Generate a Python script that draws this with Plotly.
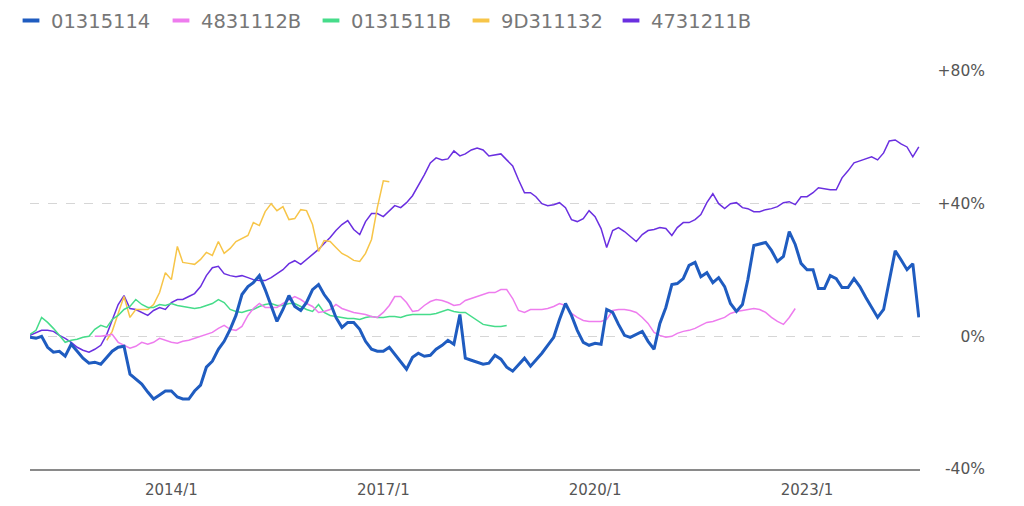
import plotly.graph_objects as go
import pandas as pd

# ---- data (monthly, % change) ----
names = ["01315114", "4831112B", "0131511B", "9D311132", "4731211B"]
colors = ["#1f5cc0", "#ee7cee", "#46dc8a", "#f7c548", "#6a2fe0"]
starts = ["2012-01-01", "2012-12-01", "2012-01-01", "2013-02-01", "2012-01-01"]

s_01315114 = [
    -0.3, -0.6, 0, -3.3, -4.8, -4.5, -6.0, -2.4, -4.5, -6.6, -8.1, -7.8,
    -8.4, -6.3, -4.5, -3.3, -3.0, -11.4, -12.9, -14.4, -16.8, -18.9, -17.7, -16.5,
    -16.5, -18.3, -18.9, -18.9, -16.5, -14.7, -9.3, -7.5, -3.9, -1.5, 2.1, 6.3,
    12.6, 15.0, 16.2, 18.3, 14.1, 9.3, 4.5, 8.1, 12.3, 9.0, 7.8, 10.2,
    14.1, 15.6, 12.6, 10.2, 5.7, 2.7, 4.2, 4.2, 2.1, -1.5, -3.9, -4.5,
    -4.5, -3.3, -5.4, -7.8, -9.9, -6.3, -5.1, -6.0, -5.7, -3.9, -2.7, -1.2,
    -2.4, 6.6, -6.6, -7.2, -7.8, -8.4, -8.1, -5.7, -6.9, -9.3, -10.5, -8.7,
    -6.6, -9.0, -7.2, -5.1, -2.7, -0.3, 5.1, 9.9, 6.3, 1.8, -1.8, -2.7,
    -2.1, -2.4, 8.1, 7.2, 3.6, 0.3, -0.3, 0.6, 1.5, -1.5, -3.9, 3.9,
    8.7, 15.6, 15.9, 17.4, 21.4, 22.3, 18.0, 19.2, 16.2, 17.7, 15.0, 9.9,
    7.5, 9.6, 17.1, 27.4, 27.9, 28.3, 25.9, 22.6, 24.1, 31.6, 27.7, 22.0,
    20.1, 20.1, 14.4, 14.4, 18.3, 17.4, 14.7, 14.7, 17.4, 15.0, 11.7, 8.7,
    5.7, 8.1, 16.5, 25.8, 23.1, 20.1, 21.9, 5.7,
]

s_4831112B = [
    0, 0, 0.3, 0.6, -1.8, -2.7, -3.6, -3.0, -1.8, -2.4, -1.8, -0.6,
    -1.2, -1.8, -2.1, -1.5, -1.2, -0.6, 0, 0.6, 1.2, 2.4, 3.3, 2.1,
    1.8, 3.0, 6.3, 8.4, 9.9, 8.7, 8.7, 8.7, 9.9, 11.1, 12.0, 11.1,
    9.9, 9.0, 7.2, 7.5, 8.1, 9.6, 8.4, 7.8, 7.2, 6.9, 6.6, 6.0,
    5.7, 7.2, 9.3, 12.0, 12.0, 10.2, 7.5, 7.8, 9.3, 10.5, 11.1, 10.8,
    10.2, 9.3, 9.6, 10.8, 11.4, 12.0, 12.6, 13.2, 13.2, 14.1, 14.1, 11.4,
    7.8, 7.2, 8.1, 8.1, 8.1, 8.4, 9.0, 9.9, 9.3, 6.9, 5.7, 4.8,
    4.5, 4.5, 4.5, 5.1, 7.8, 8.1, 8.1, 7.8, 7.2, 5.7, 3.9, 1.2,
    0.3, -0.3, 0, 0.9, 1.5, 1.8, 2.4, 3.3, 4.2, 4.5, 5.1, 5.7,
    6.9, 7.5, 7.8, 8.1, 8.4, 8.1, 7.2, 5.7, 4.5, 3.6, 5.7, 8.4,
]

s_0131511B = [
    0.6, 1.8, 5.7, 4.2, 2.4, 0.3, -1.8, -1.2, -0.9, -0.3, 0, 2.1,
    3.3, 2.7, 5.1, 6.3, 8.1, 9.0, 11.1, 9.6, 8.7, 8.7, 9.6, 9.3,
    9.9, 9.3, 9.0, 8.7, 8.4, 8.7, 9.3, 9.9, 11.1, 10.2, 8.1, 7.5,
    7.2, 7.8, 8.1, 9.0, 9.6, 9.9, 9.3, 9.3, 9.9, 9.9, 9.0, 8.1,
    7.5, 9.6, 7.2, 6.3, 6.0, 5.7, 5.4, 5.4, 5.1, 5.7, 6.0, 5.7,
    5.7, 6.0, 6.0, 5.7, 6.3, 6.6, 6.6, 6.6, 6.6, 6.9, 7.5, 8.1,
    7.5, 7.2, 7.2, 6.0, 4.8, 3.6, 3.3, 3.0, 3.0, 3.3,
]

s_9D311132 = [
    -1.2, 1.5, 6.9, 12.0, 5.7, 8.1, 8.1, 8.1, 9.6, 13.2, 19.2,
    17.1, 27.1, 22.3, 22.0, 21.7, 23.2, 25.3, 24.4, 28.6, 25.0, 26.5, 28.6,
    29.5, 30.4, 34.3, 33.4, 37.6, 40.0, 37.9, 39.1, 35.2, 35.5, 38.2, 37.9,
    33.7, 25.6, 28.9, 28.6, 26.8, 25.0, 24.1, 22.9, 22.6, 25.0, 29.2, 38.8,
    46.9, 46.6,
]

s_4731211B = [
    0.3, 1.2, 1.8, 1.8, 1.5, 0.3, -0.6, -1.8, -3.3, -4.2, -4.8, -3.9,
    -2.7, 0.6, 5.1, 9.6, 12.3, 8.4, 8.1, 7.2, 6.3, 7.8, 8.7, 8.1,
    10.2, 11.1, 11.1, 12.0, 12.9, 15.0, 18.3, 20.7, 21.1, 18.9, 18.3, 18.0,
    18.3, 17.7, 17.1, 16.8, 16.8, 17.7, 18.9, 20.1, 21.9, 22.8, 21.7, 23.2,
    24.7, 26.2, 28.0, 29.8, 31.9, 33.7, 34.9, 32.2, 30.7, 34.6, 37.0, 37.0,
    36.1, 37.9, 39.4, 38.8, 40.3, 42.4, 45.4, 48.7, 52.3, 53.8, 53.2, 53.5,
    55.9, 54.4, 55.0, 56.2, 56.8, 56.2, 54.4, 54.7, 55.0, 53.2, 51.4, 47.2,
    43.3, 43.3, 42.1, 40.0, 39.4, 39.7, 40.3, 38.8, 35.2, 34.6, 35.5, 37.9,
    36.1, 32.5, 26.8, 31.9, 32.8, 31.6, 30.1, 28.6, 30.7, 31.9, 32.2, 32.8,
    32.5, 30.4, 32.8, 34.3, 34.3, 35.2, 36.7, 40.3, 43.0, 40.0, 38.5, 40.0,
    40.3, 38.8, 38.5, 37.6, 37.6, 38.2, 38.5, 39.1, 40.3, 40.6, 39.7, 42.1,
    42.1, 43.3, 44.8, 44.5, 44.2, 44.2, 47.8, 49.9, 52.3, 52.9, 53.5, 54.1,
    53.2, 55.3, 58.9, 59.2, 58.0, 57.1, 54.1, 57.1,
]

series = [s_01315114, s_4831112B, s_0131511B, s_9D311132, s_4731211B]
widths = [3, 1.5, 1.5, 1.5, 1.5]

x_ticks = ["2014-01-01", "2017-01-01", "2020-01-01", "2023-01-01"]
x_ticktext = ["2014/1", "2017/1", "2020/1", "2023/1"]
y_ticks = [-40, 0, 40, 80]
y_ticktext = ["-40%", "0%", "+40%", "+80%"]

fig = go.Figure()

# draw order: purple, yellow, green, pink, blue on top
order = [4, 3, 2, 1, 0]
for i in order:
    dates = pd.date_range(starts[i], periods=len(series[i]), freq="MS")
    fig.add_trace(go.Scatter(
        x=dates, y=series[i], mode="lines", name=names[i],
        line=dict(color=colors[i], width=widths[i]),
        showlegend=False, hoverinfo="skip",
    ))

# legend entries
for i in range(5):
    fig.add_trace(go.Scatter(
        x=[None], y=[None], mode="markers", name=names[i],
        marker=dict(symbol="line-ew", size=12,
                    line=dict(color=colors[i], width=4)),
        showlegend=True,
    ))

fig.update_layout(
    width=1024, height=506,
    margin=dict(l=30, r=30, t=71, b=37, autoexpand=False),
    paper_bgcolor="white", plot_bgcolor="white",
    font=dict(family="DejaVu Sans", color="#555555"),
    legend=dict(
        orientation="h", x=-0.0197, y=1.175, xanchor="left", yanchor="top",
        font=dict(size=19.5, color="#777777"),
        entrywidth=105, entrywidthmode="pixels",
        bgcolor="rgba(0,0,0,0)",
    ),
    xaxis=dict(
        domain=[0, 0.9232],
        range=["2012-01-01", "2024-08-07"],
        tickvals=x_ticks, ticktext=x_ticktext,
        showgrid=False, zeroline=False,
        showline=True, linecolor="#8a8a8a", linewidth=1.5,
        ticks="", tickfont=dict(size=15, color="#555555"),
        ticklabelstandoff=6, automargin=False,
    ),
    yaxis=dict(
        range=[-40, 80],
        tickvals=y_ticks, ticktext=y_ticktext,
        anchor="free", position=0.9907, side="left",
        showgrid=True, gridcolor="#d6d6d6", griddash="dash", gridwidth=1,
        zeroline=False, showline=False, ticks="",
        tickfont=dict(size=15.5, color="#555555"),
        automargin=False,
    ),
)

fig.write_html("out.html")
